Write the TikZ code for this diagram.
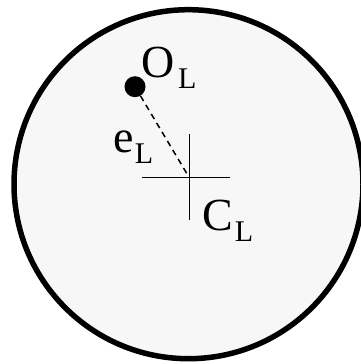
\documentclass[tikz,border=0pt]{standalone}
\usepackage{fontspec}
\setmainfont{Liberation Serif}
\definecolor{diskfill}{RGB}{247,247,247}
\newcommand{\subL}{\raisebox{-11pt}{\fontsize{30}{30}\selectfont L}}
\begin{document}
\begin{tikzpicture}[x=1pt,y=-1pt,
  lab/.style={inner sep=0pt, anchor=base west, font=\fontsize{46}{46}\selectfont},
  thinline/.style={line width=1.5pt}]
\useasboundingbox (0,0) rectangle (361,364);
\clip (0,0) rectangle (361,364);
\draw[line width=5.5pt, fill=diskfill] (188.5,184.2) circle[radius=174.5pt];
\node[circle, fill=black, inner sep=0pt, minimum size=21pt] (OL) at (135,86.7) {};
\coordinate (CL) at (189.3,177.7);
\coordinate (ha) at (142.3,177.7);
\coordinate (hb) at (230,177.7);
\coordinate (va) at (189.3,134);
\coordinate (vb) at (189.3,220);
\draw[thinline, dash pattern=on 6pt off 4.5pt] (OL) -- (CL);
\draw[thinline] (ha) -- (hb);
\draw[thinline] (va) -- (vb);
\node[lab] (labO) at (141.7,77.8) {O\kern3pt\subL};
\node[lab] (labe) at (112.9,152.3) {e\kern1.3pt\subL};
\node[lab] (labC) at (202.7,230.5) {C\kern1.3pt\subL};
\end{tikzpicture}
\end{document}
